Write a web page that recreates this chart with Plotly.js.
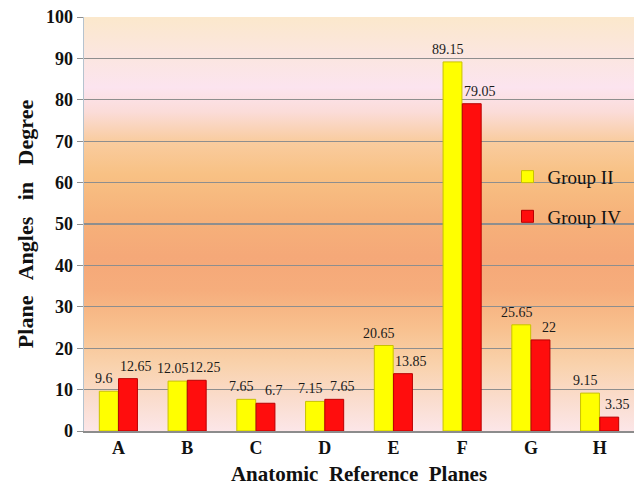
<!DOCTYPE html>
<html>
<head>
<meta charset="utf-8">
<script src="https://cdn.plot.ly/plotly-3.0.1.min.js"></script>
<style>
  html, body { margin: 0; padding: 0; background: #ffffff; }
  #wrap { position: relative; width: 638px; height: 486px; }
  #bg { position: absolute; left: 84px; top: 17px; width: 550px; height: 414px;
        background: linear-gradient(to bottom,
          #fbe8cc 0%, #fbe6df 9%, #fce4ef 17%, #fbdcd8 23%, #f9cc9f 30%,
          #f8c184 38%, #f6b27a 48%, #f5a878 58%, #f6ad7c 66%, #f8c08e 75%,
          #f9d2ac 84%, #fadccc 92%, #fce6e8 100%); }
  #chart { position: absolute; left: 0; top: 0; width: 638px; height: 486px; }
</style>
</head>
<body>
<div id="wrap">
  <div id="bg"></div>
  <div id="chart"></div>
</div>
<script>
const categories = ['A', 'B', 'C', 'D', 'E', 'F', 'G', 'H'];
const groupII = [9.6, 12.05, 7.65, 7.15, 20.65, 89.15, 25.65, 9.15];
const groupIV = [12.65, 12.25, 6.7, 7.65, 13.85, 79.05, 22, 3.35];
const seriesNames = ['Group II', 'Group IV'];
const yTicks = [0, 10, 20, 30, 40, 50, 60, 70, 80, 90, 100];

const serif = 'Liberation Serif, Times New Roman, serif';

const traces = [
  {
    type: 'bar', name: seriesNames[0], x: categories, y: groupII,
    legendgroup: 'g1',
    marker: { color: '#ffff00', line: { color: '#c9c200', width: 1 } },
    cliponaxis: false
  },
  {
    type: 'bar', name: seriesNames[1], x: categories, y: groupIV,
    legendgroup: 'g2',
    marker: { color: '#ff0d0d', line: { color: '#b80000', width: 1 } },
    cliponaxis: false
  }
];

// value labels placed above each bar (offset horizontally to the bar's slot)
const labelFont = { family: serif, size: 14, color: '#1a1a1a' };
const annotations = [];
categories.forEach((c, i) => {
  annotations.push({ x: c, y: groupII[i], text: String(groupII[i]), showarrow: false,
    xref: 'x', yref: 'y', xanchor: 'center', yanchor: 'bottom', xshift: -14, yshift: 3, font: labelFont });
  annotations.push({ x: c, y: groupIV[i], text: String(groupIV[i]), showarrow: false,
    xref: 'x', yref: 'y', xanchor: 'center', yanchor: 'bottom', xshift: 18, yshift: 3, font: labelFont });
});

const layout = {
  width: 638, height: 486,
  margin: { l: 84, r: 4, t: 17, b: 55 },
  paper_bgcolor: 'rgba(0,0,0,0)',
  plot_bgcolor: 'rgba(0,0,0,0)',
  barmode: 'group', bargap: 0.44, bargroupgap: 0.02,
  showlegend: true,
  annotations: annotations,
  legend: {
    x: 0.77, y: 0.66, xanchor: 'left', yanchor: 'top',
    bgcolor: 'rgba(0,0,0,0)',
    font: { family: serif, size: 19, color: '#111' },
    traceorder: 'grouped', tracegroupgap: 12,
    itemwidth: 30
  },
  xaxis: {
    tickfont: { family: serif, size: 18, color: '#111', weight: 'bold' },
    showline: true, linecolor: '#8c8c8c', linewidth: 1.5,
    ticks: '', showgrid: false,
    title: { text: '<b>Anatomic  Reference  Planes</b>', font: { family: serif, size: 21, color: '#111' }, standoff: 10 }
  },
  yaxis: {
    range: [0, 100], tickvals: yTicks, ticktext: yTicks.map(String),
    tickfont: { family: serif, size: 18, color: '#111', weight: 'bold' },
    showgrid: true, gridcolor: '#8e8e8e', gridwidth: 1.3,
    showline: true, linecolor: '#b5c3cf', linewidth: 1.5,
    ticks: 'outside', ticklen: 6, tickcolor: '#8e8e8e',
    zeroline: false,
    title: { text: '<b>Plane&nbsp;&nbsp; Angles&nbsp;&nbsp; in&nbsp;&nbsp; Degree</b>', font: { family: serif, size: 22, color: '#111' }, standoff: 6 }
  }
};

Plotly.newPlot('chart', traces, layout, { displayModeBar: false, staticPlot: true });
</script>
</body>
</html>
